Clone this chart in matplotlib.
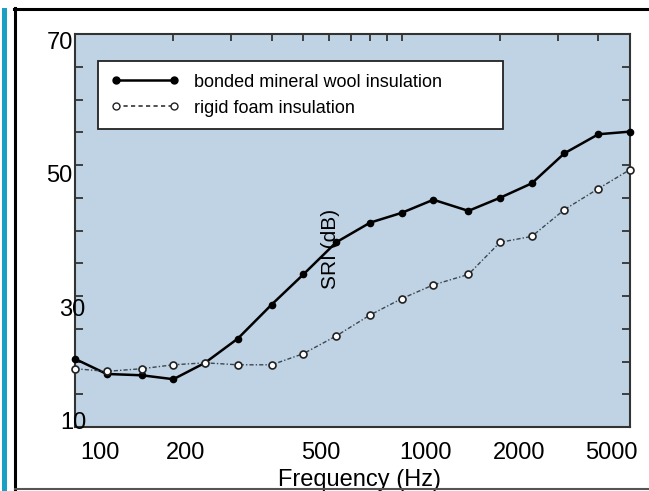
import matplotlib
matplotlib.use('Agg')
import matplotlib.pyplot as plt
from matplotlib.lines import Line2D
from matplotlib.patches import Rectangle
from matplotlib.ticker import NullFormatter

plt.rcParams['font.family'] = ['Liberation Sans', 'DejaVu Sans']

# third-octave band centre frequencies (Hz)
freq = [100, 125, 160, 200, 250, 315, 400, 500, 630, 800,
        1000, 1250, 1600, 2000, 2500, 3150, 4000, 5000]
mineral_wool = [20.4, 18.1, 17.9, 17.3, 19.8, 23.5, 28.7, 33.3, 38.2, 41.2,
                42.7, 44.7, 43.0, 45.0, 47.2, 51.8, 54.7, 55.1]
rigid_foam = [18.9, 18.5, 18.9, 19.5, 19.8, 19.5, 19.5, 21.2, 23.9, 27.1,
              29.6, 31.7, 33.3, 38.2, 39.1, 43.2, 46.4, 49.3]

x_tick_labels = ['100', '200', '500', '1000', '2000', '5000']
y_tick_labels = ['70', '50', '30', '10']
top_ticks = [200, 300, 400, 500, 600, 700, 800, 900, 1000, 2000, 3000, 4000]
bottom_ticks = [400, 500, 600, 900, 2000, 4000]
y_ticks = [15, 20, 25, 30, 35, 40, 45, 50, 55, 60, 65]

# where the labels sit in the original (axes fraction)
x_label_x = [0.045, 0.200, 0.443, 0.631, 0.800, 0.966]
y_label_xy = [(-0.004, 0.977), (-0.005, 0.638), (0.018, 0.298), (0.020, 0.010)]

fig = plt.figure(figsize=(6.49, 4.91), dpi=100)
fig.patch.set_facecolor('white')

# page decoration: teal bar and black frame
fig.add_artist(Rectangle((0.003, 0.0), 0.008, 0.984, transform=fig.transFigure,
                         color='#1aa0c2', lw=0))
fig.add_artist(Line2D([0.021, 1.0], [0.9817, 0.9817], transform=fig.transFigure,
                      color='black', lw=2.2))
fig.add_artist(Line2D([0.0231, 0.0231], [0.0, 0.984], transform=fig.transFigure,
                      color='black', lw=2.2))
fig.add_artist(Line2D([0.0231, 1.0], [0.004, 0.004], transform=fig.transFigure,
                      color='#555555', lw=1.5))

ax = fig.add_axes([0.1156, 0.1303, 0.8552, 0.8004])
ax.set_facecolor('#bfd3e4')
ax.set_xscale('log')
ax.set_xlim(100, 5000)
ax.set_ylim(10, 70)

ax.plot(freq, mineral_wool, color='black', lw=1.8, marker='o', ms=4.5,
        mfc='black', mec='black', clip_on=False, zorder=3)
ax.plot(freq, rigid_foam, color='#3c4650', lw=1.0, ls=(0, (3, 1.5, 1, 1.5)),
        marker='o', ms=5, mfc='white', mec='#222222', mew=1.2,
        clip_on=False, zorder=3)

for s in ax.spines.values():
    s.set_color('#333333')
    s.set_linewidth(1.5)

ax.set_xticks(top_ticks)
ax.set_xticks(bottom_ticks, minor=True)
ax.xaxis.set_major_formatter(NullFormatter())
ax.xaxis.set_minor_formatter(NullFormatter())
ax.tick_params(axis='x', which='major', direction='in', top=True, bottom=False,
               length=5, width=1.3, color='#333333', labelbottom=False)
ax.tick_params(axis='x', which='minor', direction='in', top=False, bottom=True,
               length=4, width=1.3, color='#333333', labelbottom=False)
ax.set_yticks(y_ticks)
ax.yaxis.set_major_formatter(NullFormatter())
ax.tick_params(axis='y', which='both', direction='in', left=True, right=True,
               length=6, width=1.3, color='#333333', labelleft=False)
ax.yaxis.set_minor_locator(plt.NullLocator())

for lab, xf in zip(x_tick_labels, x_label_x):
    ax.text(xf, -0.065, lab, transform=ax.transAxes, ha='center', va='center',
            fontsize=17)
for lab, (xf, yf) in zip(y_tick_labels, y_label_xy):
    ax.text(xf, yf, lab, transform=ax.transAxes, ha='right', va='center',
            fontsize=17)

ax.text(0.512, -0.135, 'Frequency (Hz)', transform=ax.transAxes,
        ha='center', va='center', fontsize=17)
ax.text(0.461, 0.454, 'SRI (dB)', transform=ax.transAxes, rotation=90,
        ha='center', va='center', fontsize=15)

handles = [
    Line2D([], [], color='black', lw=1.8, marker='o', ms=5, mfc='black'),
    Line2D([], [], color='#333333', lw=1.2, ls=(0, (2.5, 2)), marker='o', ms=5,
           mfc='white', mec='#222222'),
]
leg = ax.legend(handles, ['bonded mineral wool insulation', 'rigid foam insulation'],
                loc='upper left', bbox_to_anchor=(0.0414, 0.76, 0.7297, 0.171),
                mode='expand', numpoints=2, fontsize=13, handlelength=3.8,
                handletextpad=0.83, labelspacing=0.5, borderpad=0.7,
                borderaxespad=0, fancybox=False, framealpha=1)
leg.get_frame().set_edgecolor('#222222')
leg.get_frame().set_linewidth(1.3)

fig.savefig('out.png', dpi=100)
